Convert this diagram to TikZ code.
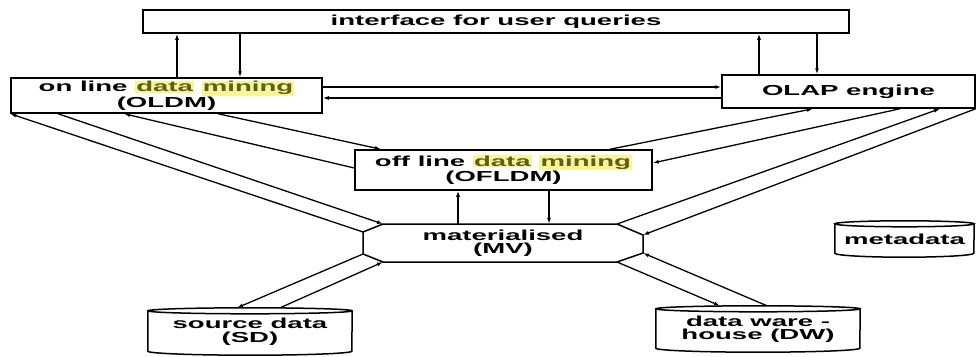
\documentclass[tikz,border=0pt]{standalone}
\usepackage{fontspec}
\setmainfont{Liberation Sans}
\usetikzlibrary{arrows.meta,calc}
\definecolor{hlfill}{RGB}{246,246,150}
\definecolor{hlink}{RGB}{95,95,25}
% wide lettering and marker highlight
\newcommand\wide[1]{\scalebox{1.9}[1]{#1}}
\newcommand\hlword[1]{{\setlength{\fboxsep}{0.6pt}\colorbox{hlfill}{\color{hlink}#1}}}

\begin{document}
\begin{tikzpicture}[x=1pt,y=-1pt,
  every node/.style={font=\fontsize{14.5}{13.5}\selectfont\bfseries, inner sep=0pt, align=center},
  box/.style={draw, line width=1.5pt},
  outline/.style={line width=1.5pt},
  link/.style={line width=1.3pt, -{Latex[length=6pt,width=4pt]}}]
\useasboundingbox (0,0) rectangle (976,356);

% rectangular blocks
\node[box, minimum width=706pt, minimum height=23pt] (iface) at (496,21.5) {\wide{interface for user queries}};
\node[box, minimum width=311pt, minimum height=35pt] (oldm) at (166.5,95.5)
  {\wide{on line \hlword{data} \hlword{mining}}\\\wide{(OLDM)}};
\node[box, minimum width=253pt, minimum height=33pt] (olap) at (848.5,91.5) {\wide{OLAP engine}};
\node[box, minimum width=297pt, minimum height=40pt] (ofldm) at (503.5,170)
  {\wide{off line \hlword{data} \hlword{mining}}\\\wide{(OFLDM)}};

% materialised views: eight-sided block
\node[minimum width=280pt, minimum height=38pt] (mv) at (503,243) {\wide{materialised}\\\wide{(MV)}};
\coordinate (mvTL) at (383,224);
\coordinate (mvTR) at (617,224);
\coordinate (mvRt) at (643,235);
\coordinate (mvRb) at (643,253);
\coordinate (mvBR) at (617,262);
\coordinate (mvBL) at (383,262);
\coordinate (mvLb) at (363,254);
\coordinate (mvLt) at (363,232);
\draw[outline] (mvTL) -- (mvTR) -- (mvRt) -- (mvRb) -- (mvBR) -- (mvBL) -- (mvLb) -- (mvLt) -- cycle;

% stores (cylinders)
\node[minimum width=204pt, minimum height=47pt] (sd) at (250,331.5) {\wide{source data}\\\wide{(SD)}};
\node[minimum width=204pt, minimum height=46pt] (dw) at (758,329) {\wide{data ware -}\\\wide{house (DW)}};
\node[minimum width=139pt, minimum height=36pt] (meta) at (904.5,239) {\wide{metadata}};
\foreach \c/\rx in {sd/102, dw/102, meta/69.5} {
  \draw[outline] ($(\c.north)+(0,3)$) ellipse[x radius=\rx, y radius=3];
  \draw[outline] ($(\c.north west)+(0,3)$) -- ($(\c.south west)+(0,-4)$)
    arc[start angle=180, end angle=0, x radius=\rx, y radius=4] -- ($(\c.north east)+(0,3)$);
}

% user interface links
\draw[link] (oldm.north -| 177,0) -- (iface.south -| 177,0);
\draw[link] (iface.south -| 240,0) -- (oldm.north -| 240,0);
\draw[link] (olap.north -| 759,0) -- (iface.south -| 759,0);
\draw[link] (iface.south -| 817,0) -- (olap.north -| 817,0);

% on line mining <-> OLAP
\draw[link] (oldm.east |- 0,87) -- (olap.west |- 0,87);
\draw[link] (olap.west |- 0,98) -- (oldm.east |- 0,98);

% off line mining links
\draw[link] (ofldm.west |- 0,168) -- (oldm.south -| 124,0);
\draw[link] (oldm.south -| 218,0) -- (ofldm.north -| 381,0);
\draw[link] (ofldm.north -| 610,0) -- (olap.south -| 813,0);
\draw[link] (olap.south -| 900,0) -- (ofldm.east |- 0,163);
\draw[link] (mv.north -| 458,0) -- (ofldm.south -| 458,0);
\draw[link] (ofldm.south -| 549,0) -- (mv.north -| 549,0);

% materialised views <-> engines
\draw[link] (mvLt) -- (oldm.south west);
\draw[link] (oldm.south -| 58,0) -- (mvTL);
\draw[link] (mvTR) -- (olap.south -| 940,0);
\draw[link] (olap.south east) -- (mvRt);

% materialised views <-> stores
\draw[link] (mvLb) -- (sd.north -| 237,0);
\draw[link] (sd.north -| 280,0) -- (mvBL);
\draw[link] (mvBR) -- (dw.north -| 720,0);
\draw[link] (dw.north -| 767,0) -- (mvRb);
\end{tikzpicture}
\end{document}
